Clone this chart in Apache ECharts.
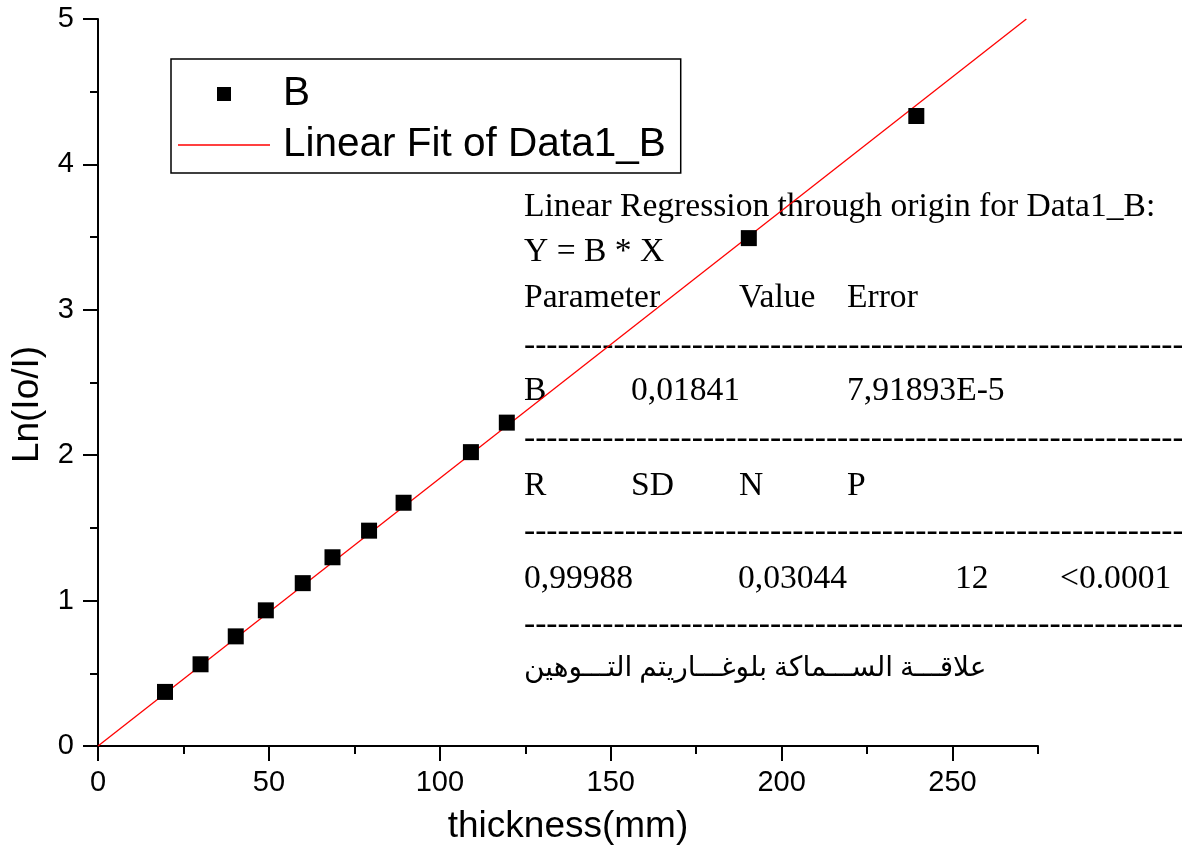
<!DOCTYPE html>
<html>
<head>
<meta charset="utf-8">
<script src="https://cdn.jsdelivr.net/npm/echarts@6/dist/echarts.min.js"></script>
<style>
html,body{margin:0;padding:0;background:#fff;}
#chart{width:1182px;height:859px;}
</style>
</head>
<body>
<div id="chart"></div>
<script>
// ---- data ----
const thickness = [19.6, 30.0, 40.3, 49.1, 59.9, 68.6, 79.3, 89.4, 109.1, 119.6, 190.4, 239.4];
const lnRatio   = [0.372, 0.562, 0.754, 0.933, 1.12, 1.298, 1.481, 1.673, 2.021, 2.224, 3.493, 4.333];
const fitX = [0, 271.6];
const fitY = [0, 5];
const seriesNames = ['B', 'Linear Fit of Data1_B'];
const statsLines = [
  'Linear Regression through origin for Data1_B:',
  'Y = B * X'
];
const paramHeader = ['Parameter', 'Value', 'Error'];
const paramRow = ['B', '0,01841', '7,91893E-5'];
const statHeader = ['R', 'SD', 'N', 'P'];
const statRow = ['0,99988', '0,03044', '12', '<0.0001'];
const arabicNote = 'علاقـــة الســـماكة بلوغـــاريتم التـــوهين';

const scatterData = thickness.map((x, i) => [x, lnRatio[i]]);
const fitData = fitX.map((x, i) => [x, fitY[i]]);

const SANS = "'Liberation Sans', Arial, sans-serif";
const SERIF = "'Liberation Serif', 'Times New Roman', 'DejaVu Serif', 'DejaVu Sans', serif";
const dashes = '-'.repeat(62);

function txt(text, x, y, size) {
  return {
    type: 'text', x: x, y: y, silent: true,
    style: { text: text, fill: '#000', font: (size || 33.6) + 'px ' + SERIF, align: 'left', verticalAlign: 'middle' }
  };
}

const graphics = [
  txt(statsLines[0], 524, 207),
  txt(statsLines[1], 524, 252),
  txt(paramHeader[0], 524, 298),
  txt(paramHeader[1], 739, 298),
  txt(paramHeader[2], 847, 298),
  txt(dashes, 524, 346),
  txt(paramRow[0], 524, 391),
  txt(paramRow[1], 631, 391),
  txt(paramRow[2], 847, 391),
  txt(dashes, 524, 439),
  txt(statHeader[0], 524, 486),
  txt(statHeader[1], 631, 486),
  txt(statHeader[2], 739, 486),
  txt(statHeader[3], 847, 486),
  txt(dashes, 524, 532),
  txt(statRow[0], 524, 579),
  txt(statRow[1], 738, 579),
  txt(statRow[2], 955, 579),
  txt(statRow[3], 1060, 579),
  txt(dashes, 524, 625),
  txt(arabicNote, 524, 669, 28)
];

const chart = echarts.init(document.getElementById('chart'), null, { renderer: 'canvas' });
const axisLineStyle = { color: '#000', width: 2 };
const tickStyle = { color: '#000', width: 2 };
chart.setOption({
  backgroundColor: '#fff',
  animation: false,
  grid: [
    { left: 98, right: 144, top: 19, bottom: 113, containLabel: false },
    // helper grid carrying only the long major x ticks (0..250 spans the same pixels)
    { left: 98, width: 854.5, top: 19, bottom: 113, containLabel: false }
  ],
  legend: {
    orient: 'vertical',
    left: 171, top: 59,
    padding: [13, 15, 6, 7],
    itemGap: 7,
    itemWidth: 92, itemHeight: 14,
    borderColor: '#000', borderWidth: 1.5,
    selectedMode: false,
    textStyle: { fontFamily: SANS, fontSize: 40.5, color: '#000', lineHeight: 44, padding: [0, 0, 0, 8] },
    data: [
      { name: seriesNames[0], icon: 'path://M0,0L10,0L10,10L0,10Z', itemStyle: { color: '#000', opacity: 1 } },
      { name: seriesNames[1], icon: 'path://M0,0L92,0L92,1.3L0,1.3Z', itemStyle: { color: '#ff0000' } }
    ]
  },
  xAxis: [
    {
      type: 'value', gridIndex: 0, min: 0, max: 275, interval: 25, position: 'bottom',
      name: 'thickness(mm)', nameLocation: 'middle', nameGap: 62,
      nameTextStyle: { fontFamily: SANS, fontSize: 37, color: '#000' },
      axisLine: { show: true, onZero: false, lineStyle: axisLineStyle },
      axisTick: { show: true, inside: false, length: 8, lineStyle: tickStyle },
      axisLabel: {
        fontFamily: SANS, fontSize: 29, color: '#000', margin: 22,
        formatter: v => (v % 50 === 0 ? String(v) : '')
      },
      splitLine: { show: false }
    },
    {
      type: 'value', gridIndex: 1, min: 0, max: 250, interval: 50, position: 'bottom',
      axisLine: { show: false, onZero: false },
      axisTick: { show: true, inside: false, length: 15, lineStyle: tickStyle },
      axisLabel: { show: false },
      splitLine: { show: false }
    }
  ],
  yAxis: [
    {
      type: 'value', gridIndex: 0, min: 0, max: 5, interval: 1,
      name: 'Ln(Io/I)', nameLocation: 'middle', nameGap: 52, nameRotate: 90,
      nameTextStyle: { fontFamily: SANS, fontSize: 37, color: '#000', padding: [0, 44, 0, 0] },
      axisLine: { show: true, onZero: false, lineStyle: axisLineStyle },
      axisTick: { show: true, inside: false, length: 15, lineStyle: tickStyle },
      minorTick: { show: true, splitNumber: 2, length: 8, lineStyle: tickStyle },
      axisLabel: { fontFamily: SANS, fontSize: 29, color: '#000', margin: 24 },
      splitLine: { show: false },
      minorSplitLine: { show: false }
    },
    {
      type: 'value', gridIndex: 1, min: 0, max: 5, show: false,
      axisLine: { show: false }, axisTick: { show: false }, axisLabel: { show: false }, splitLine: { show: false }
    }
  ],
  series: [
    {
      name: seriesNames[0], type: 'scatter', xAxisIndex: 0, yAxisIndex: 0,
      symbol: 'rect', symbolSize: 16,
      itemStyle: { color: '#000', opacity: 1 },
      data: scatterData, z: 3
    },
    {
      name: seriesNames[1], type: 'line', xAxisIndex: 0, yAxisIndex: 0,
      symbol: 'none', showSymbol: false,
      lineStyle: { color: '#ff0000', width: 1.3 },
      itemStyle: { color: '#ff0000' },
      data: fitData, z: 2
    }
  ],
  graphic: graphics
});
</script>
</body>
</html>
